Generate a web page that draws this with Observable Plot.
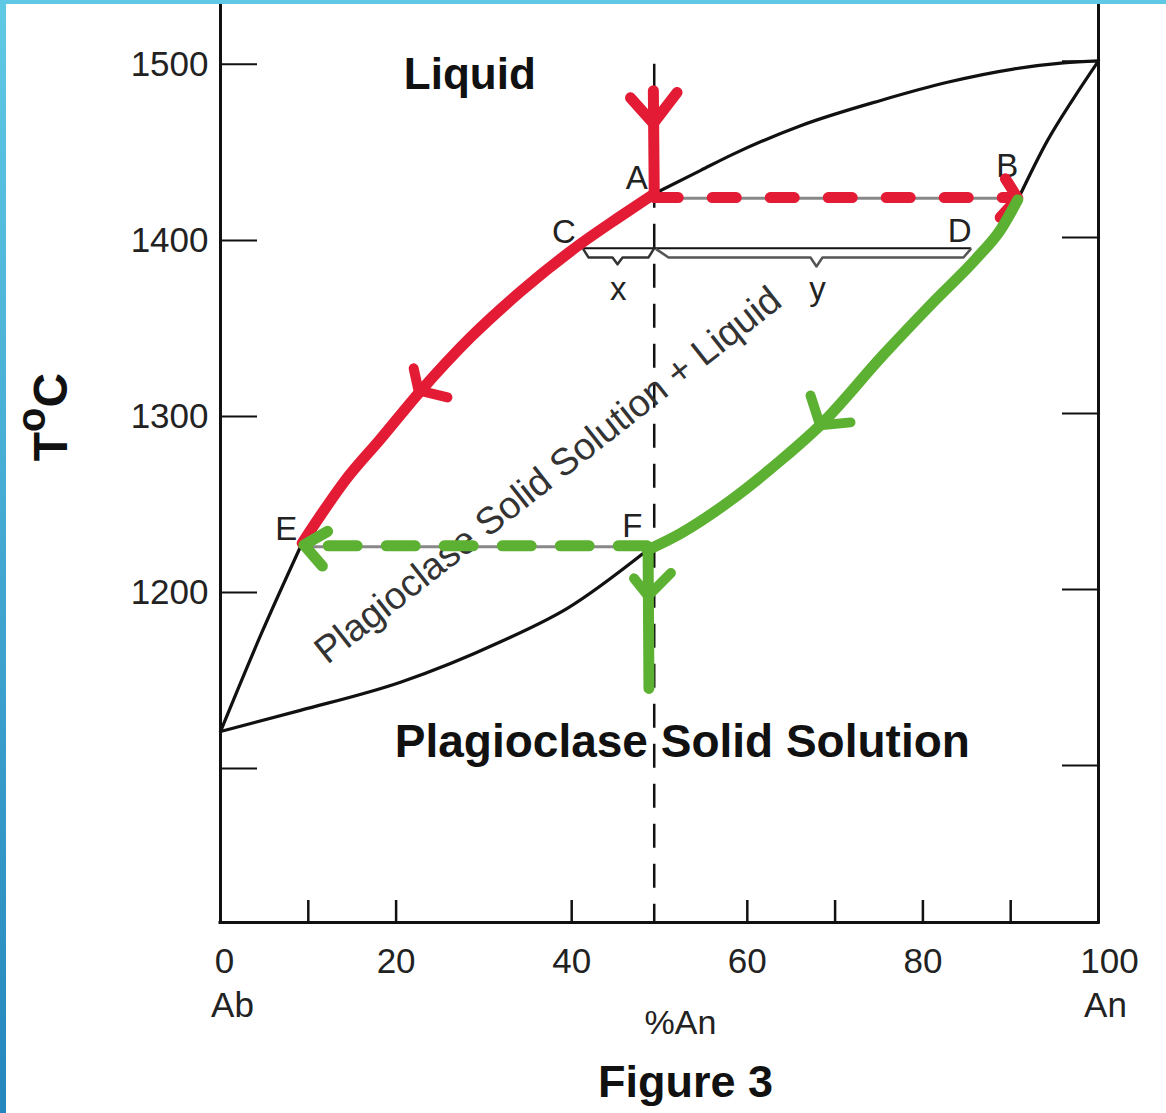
<!DOCTYPE html>
<html><head><meta charset="utf-8">
<script src="https://cdn.jsdelivr.net/npm/d3@7"></script>
<script src="https://cdn.jsdelivr.net/npm/@observablehq/plot@0.6"></script>
<style>
body{margin:0;background:#fff;}
#wrap{position:relative;width:1166px;height:1113px;overflow:hidden;background:#fff;}
#lb{position:absolute;left:0;top:0;width:6px;height:1113px;background:linear-gradient(#60c9e5,#2487bd);}
#tb{position:absolute;left:0;top:0;width:1166px;height:4px;background:#5fc8e4;}
</style></head><body>
<div id="wrap"><div id="chart"></div><div id="lb"></div><div id="tb"></div></div>
<script>
// ---------- data ----------
const xDomain = [0, 100];
const yDomain = [1012.5, 1534];
const xTicks = [10, 20, 40, 60, 70, 80, 90];
const yTicks = [1100, 1200, 1300, 1400, 1500];
const yTickLabels = [1200, 1300, 1400, 1500];
const xTickLabels = [20, 40, 60, 80];
const endMembers = ["Ab", "An"];
const endX = [0, 100];

// liquidus (upper curve) pieces
const liquidusBlackLow = [[0,1121],[4.6,1176],[9.3,1228]];
const liquidusRed = [[9.3,1228],[11.4,1243.8],[14.2,1263.6],[18.2,1287],[22.8,1314.5],[28.5,1345],[34.2,1371],[41,1398],[45.5,1413.5],[49.4,1426.5]];
const liquidusBlackHigh = [[49.4,1426.5],[54.7,1439.8],[58.4,1449],[66,1465],[75.2,1479.5],[82.8,1489.8],[90.3,1497.3],[96,1500.8],[100,1502]];
// solidus (lower curve) pieces
const solidusBlackLow = [[0,1121],[9.1,1133],[20.5,1149],[31.9,1172],[39.5,1191],[48.6,1224]];
const solidusGreen = [[48.6,1224],[52.4,1233.5],[58.1,1252.3],[63.8,1275],[68.3,1295],[75.5,1335],[81.2,1365],[86.2,1390.3],[88.8,1405.7],[90.8,1423]];
const solidusBlackHigh = [[90.8,1423],[94.2,1456.8],[97.2,1481],[100,1502]];

// tie lines
const tieAB = [[49.4,1424],[90.8,1424]];
const tieEF = [[9.5,1226],[48.6,1226]];
const tieCD = [[41.2,1395.5],[85.4,1395.5]];
const braceX = [[41.34,1394.9],[41.91,1390.3],[44.65,1390.3],[45.22,1386.4],[45.79,1390.3],[48.75,1390.3],[49.32,1394.9]];
const braceY = [[49.66,1394.9],[51.03,1390.3],[67.2,1390.3],[67.88,1385.2],[68.56,1390.3],[84.62,1390.3],[85.42,1394.9]];
const bulkX = 49.4;
const bulkTop = 1500;

// red path (cooling liquid)
const redStem = [[49.3,1485],[49.4,1426.5]];
const redStemHead = [[46.7,1481],[49.3,1466.5],[52,1484]];
const redDash = [[49.4,1424.3],[90.3,1424.3]];
const redDashHead = [[89.4,1435],[90.8,1424],[88.8,1413]];
const redCurveHead = [[22,1327.3],[22.55,1314.8],[25.85,1310.8]];
// green path (solid)
const greenDash = [[48.6,1226.5],[9.8,1226.5]];
const greenDashHead = [[12.2,1234.7],[9.5,1227],[11.6,1215]];
const greenCurveHead = [[67.2,1311.9],[68.3,1294.9],[71.75,1296.6]];
const greenStem = [[48.7,1224],[48.8,1145.5]];
const greenStemHead = [[47.1,1208],[48.7,1198],[51.3,1211]];

// labels
const pointLabels = ["A","B","C","D","E","F"];
const pointX = [47.4,89.6,39.1,84.2,7.5,46.9];
const pointT = [1435.2,1442,1404.5,1405,1235.8,1237.5];
const leverLabels = ["x","y"];
const leverX = [45.3,68];
const leverT = [1372.2,1372.2];
const regionLiquid = {text:"Liquid", x:28.4, y:1494};
const regionSolid = {text:"Plagioclase Solid Solution", x:52.6, y:1115};
const regionMix = {text:"Plagioclase Solid Solution + Liquid", x:37.3, y:1266.5};

// ---------- chart ----------
const RED = "#e41b34", GREEN = "#5db132";
const pts = a => a.map(([x, y]) => ({x, y}));
const ln = (a, o) => Plot.line(pts(a), {x: "x", y: "y", strokeLinecap: "round", strokeLinejoin: "round", ...o});
const font = "'Liberation Sans', Arial, Helvetica, sans-serif";

const chart = Plot.plot({
  width: 1166, height: 1113,
  marginLeft: 220, marginRight: 68, marginTop: 4, marginBottom: 191,
  x: {domain: xDomain, axis: null},
  y: {domain: yDomain, axis: null},
  style: {fontFamily: font, background: "white", overflow: "visible"},
  marks: [
    // frame
    Plot.ruleX(endX, {x: d => d, stroke: "#111", strokeWidth: 3, strokeLinecap: "square"}),
    Plot.ruleY([yDomain[0]], {y: d => d, stroke: "#111", strokeWidth: 3, strokeLinecap: "square"}),
    Plot.tickY(yTicks, {y: d => d, insetRight: 841, stroke: "#111", strokeWidth: 2}),
    Plot.tickY(yTicks, {y: d => d, insetLeft: 842, dy: -3, stroke: "#111", strokeWidth: 2}),
    Plot.tickX(xTicks, {x: d => d, insetTop: 896, stroke: "#111", strokeWidth: 2.5}),
    // tick labels
    Plot.text(yTickLabels, {y: d => d, text: d => String(d), frameAnchor: "left", dx: -12, textAnchor: "end", fontSize: 35, fill: "#222"}),
    Plot.text(xTickLabels, {x: d => d, text: d => String(d), frameAnchor: "bottom", dy: 50, fontSize: 35, fill: "#222"}),
    Plot.text([0], {x: d => d, text: d => String(d), frameAnchor: "bottom", dy: 50, dx: 4, fontSize: 35, fill: "#222"}),
    Plot.text([100], {x: d => d, text: d => String(d), frameAnchor: "bottom", dy: 50, dx: 11, fontSize: 35, fill: "#222"}),
    Plot.text([0], {x: d => endX[d], text: d => endMembers[d], frameAnchor: "bottom", dy: 94, dx: 12, fontSize: 35, fill: "#222"}),
    Plot.text([1], {x: d => endX[d], text: d => endMembers[d], frameAnchor: "bottom", dy: 94, dx: 7, fontSize: 35, fill: "#222"}),
    Plot.text(["%An"], {text: d => d, frameAnchor: "bottom", dx: 21, dy: 111, fontSize: 34, fill: "#222"}),
    Plot.text(["Figure 3"], {text: d => d, frameAnchor: "bottom", dx: 26, dy: 174, fontSize: 45, fontWeight: "bold", fill: "#111"}),
    // black phase boundaries
    ln(liquidusBlackLow, {stroke: "#111", strokeWidth: 3.2, curve: "monotone-x"}),
    ln(liquidusBlackHigh, {stroke: "#111", strokeWidth: 3.2, curve: "monotone-x"}),
    ln(solidusBlackLow, {stroke: "#111", strokeWidth: 3.2, curve: "monotone-x"}),
    ln(solidusBlackHigh, {stroke: "#111", strokeWidth: 3.2, curve: "monotone-x"}),
    // tie lines & braces
    ln(tieAB, {stroke: "#888", strokeWidth: 3}),
    ln(tieEF, {stroke: "#888", strokeWidth: 3}),
    ln(tieCD, {stroke: "#111", strokeWidth: 2}),
    ln(braceX, {stroke: "#333", strokeWidth: 2.5, curve: "linear"}),
    ln(braceY, {stroke: "#555", strokeWidth: 2.5, curve: "linear"}),
    // bulk composition dashed line
    Plot.ruleX([bulkX], {x: d => d, y1: bulkTop, y2: yDomain[0], stroke: "#111", strokeWidth: 2.5, strokeDasharray: "24 16"}),
    // region and point labels
    Plot.text([regionLiquid], {x: "x", y: "y", text: "text", fontSize: 44, fontWeight: "bold", fill: "#111"}),
    Plot.text([regionSolid], {x: "x", y: "y", text: "text", fontSize: 46, fontWeight: "bold", fill: "#111"}),
    Plot.text([regionMix], {x: "x", y: "y", text: "text", fontSize: 38, rotate: -38.3, fill: "#333"}),
    Plot.text(pointLabels, {x: (d, i) => pointX[i], y: (d, i) => pointT[i], text: d => d, fontSize: 33, fill: "#222"}),
    Plot.text(leverLabels, {x: (d, i) => leverX[i], y: (d, i) => leverT[i], text: d => d, fontSize: 33, fill: "#222"}),
    // red path
    ln(liquidusRed, {stroke: RED, strokeWidth: 11, curve: "monotone-x"}),
    ln(redStem, {stroke: RED, strokeWidth: 11}),
    ln(redStemHead, {stroke: RED, strokeWidth: 11}),
    ln(redDash, {stroke: RED, strokeWidth: 11, strokeDasharray: "24 34"}),
    ln(redDashHead, {stroke: RED, strokeWidth: 11}),
    ln(redCurveHead, {stroke: RED, strokeWidth: 10}),
    // green path
    ln(solidusGreen, {stroke: GREEN, strokeWidth: 11, curve: "monotone-x"}),
    ln(greenDash, {stroke: GREEN, strokeWidth: 11, strokeDasharray: "29 29"}),
    ln(greenDashHead, {stroke: GREEN, strokeWidth: 11}),
    ln(greenCurveHead, {stroke: GREEN, strokeWidth: 10}),
    ln(greenStem, {stroke: GREEN, strokeWidth: 11}),
    ln(greenStemHead, {stroke: GREEN, strokeWidth: 10})
  ]
});

// y-axis title  T°C (raised o)
const svg = d3.select(chart);
const t = svg.append("text")
  .attr("transform", "translate(67,417) rotate(-90)")
  .attr("text-anchor", "middle")
  .attr("font-family", font)
  .attr("font-weight", "bold")
  .attr("font-size", 48)
  .attr("fill", "#111");
t.append("tspan").text("T");
t.append("tspan").attr("font-size", 40).attr("dy", -22).text("o");
t.append("tspan").attr("dy", 22).text("C");

document.getElementById("chart").appendChild(chart);
</script>
</body></html>
